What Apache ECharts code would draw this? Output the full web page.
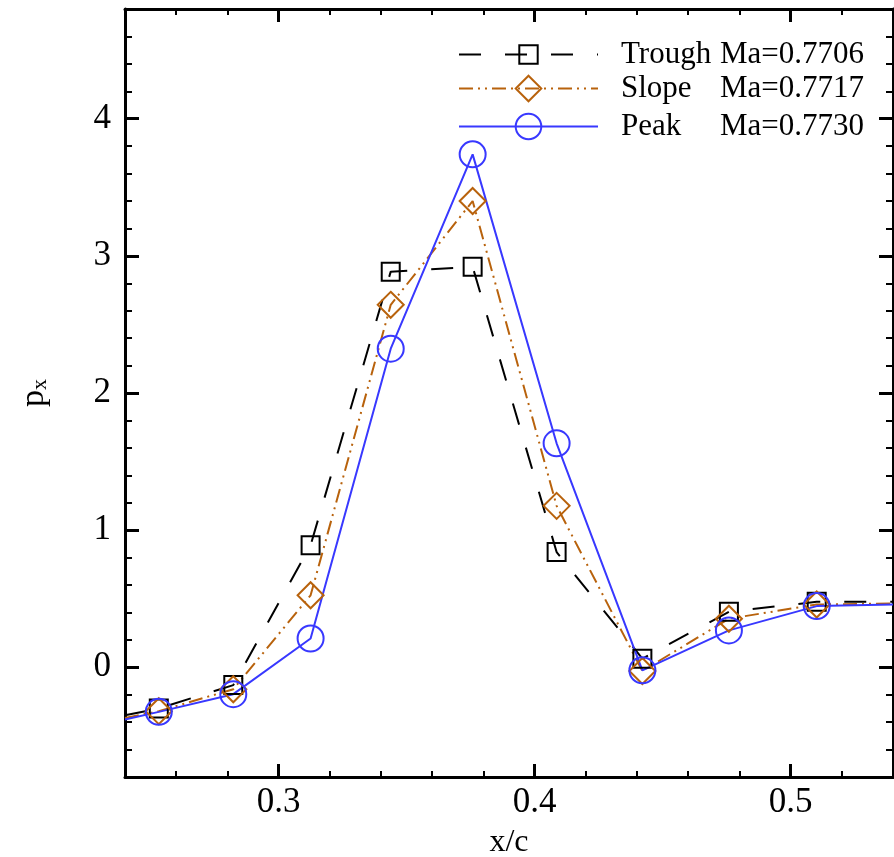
<!DOCTYPE html>
<html>
<head>
<meta charset="utf-8">
<script src="https://cdn.jsdelivr.net/npm/echarts@6/dist/echarts.min.js"></script>
<style>html,body{margin:0;padding:0;background:#fff}#c{width:894px;height:857px}</style>
</head>
<body>
<div id="c"></div>
<script>
// ---- data ----
const xPos = [0.24, 0.2532, 0.2823, 0.3125, 0.3438, 0.3758, 0.4086, 0.4421, 0.4759, 0.5102, 0.54];
const trough = [-0.35, -0.30, -0.13, 0.89, 2.885, 2.92, 0.84, 0.063, 0.405, 0.477, 0.477];
const slope  = [-0.37, -0.32, -0.16, 0.525, 2.643, 3.40, 1.177, -0.027, 0.354, 0.458, 0.465];
const peak   = [-0.38, -0.325, -0.196, 0.21, 2.323, 3.74, 1.633, -0.022, 0.269, 0.446, 0.458];
const seriesNames = ['Trough', 'Slope', 'Peak'];
const machNumbers = ['Ma=0.7706', 'Ma=0.7717', 'Ma=0.7730'];
const xTicks = [0.3, 0.4, 0.5];
const yTicks = [0, 1, 2, 3, 4];

const FONT = 'Liberation Serif';
const toData = arr => arr.map((v, i) => {
  const item = { value: [xPos[i], v] };
  if (i === 0 || i === arr.length - 1) item.symbol = 'none';
  return item;
});

function xAx(pos, major, extra) {
  return Object.assign({
    type: 'value', position: pos, min: 0.24, max: 0.54, interval: 0.02,
    axisLine: { show: !major, onZero: false, lineStyle: { color: '#000', width: 3 } },
    axisTick: major
      ? { inside: true, length: 13, customValues: xTicks, lineStyle: { color: '#000', width: 3 } }
      : { inside: true, length: 6, lineStyle: { color: '#000', width: 2 } },
    axisLabel: { show: false },
    splitLine: { show: false }
  }, extra || {});
}
function yAx(pos, major, extra) {
  return Object.assign({
    type: 'value', position: pos, min: -0.8, max: 4.8, interval: 0.2,
    axisLine: { show: !major, onZero: false, lineStyle: { color: '#000', width: 3 } },
    axisTick: major
      ? { inside: true, length: 14, customValues: yTicks, lineStyle: { color: '#000', width: 3 } }
      : { inside: true, length: 7, lineStyle: { color: '#000', width: 2 } },
    axisLabel: { show: false },
    splitLine: { show: false }
  }, extra || {});
}

function legendFor(i, centerY, itemHeight) {
  return {
    orient: 'vertical', left: 458, top: centerY - Math.max(itemHeight, 26) / 2, padding: 0,
    itemWidth: 139, itemHeight: itemHeight,
    data: [seriesNames[i]],
    formatter: name => '{n|' + name + '}{m|' + machNumbers[i] + '}',
    textStyle: { fontFamily: FONT, fontSize: 31, color: '#000', lineHeight: 26,
      rich: { n: { fontFamily: FONT, fontSize: 31, color: '#000', width: 99, lineHeight: 26, padding: [0, 0, 0, 18] },
              m: { fontFamily: FONT, fontSize: 31, color: '#000', lineHeight: 26 } } }
  };
}

const chart = echarts.init(document.getElementById('c'), null, { renderer: 'canvas' });
const colors = ['#000000', '#b8620c', '#3838ff'];
const option = {
  animation: false,
  grid: { left: 125, right: 1, top: 9, bottom: 80, containLabel: false, outerBoundsMode: 'none' },
  xAxis: [
    xAx('bottom', false),
    xAx('bottom', true, {
      axisLabel: { show: true, customValues: xTicks, formatter: v => v.toFixed(1),
        fontFamily: FONT, fontSize: 35, color: '#000', margin: 8 },
      name: 'x/c', nameLocation: 'middle', nameGap: 50,
      nameTextStyle: { fontFamily: FONT, fontSize: 32, color: '#000' }
    }),
    xAx('top', false),
    xAx('top', true)
  ],
  yAxis: [
    yAx('left', false),
    yAx('left', true, {
      axisLabel: { show: true, customValues: yTicks, formatter: v => String(Math.round(v)),
        fontFamily: FONT, fontSize: 35, color: '#000', margin: 14 },
      name: '{p|p}{s|x}', nameLocation: 'middle', nameGap: 74, nameRotate: 90,
      nameTextStyle: { fontFamily: FONT, fontSize: 34, color: '#000',
        rich: { p: { fontFamily: FONT, fontSize: 34, color: '#000' },
                s: { fontFamily: FONT, fontSize: 22, color: '#000', padding: [12, 0, 0, 0] } } }
    }),
    yAx('right', false),
    yAx('right', true)
  ],
  legend: [
    legendFor(0, 52, 23),
    legendFor(1, 89, 32),
    legendFor(2, 127, 32)
  ],
  series: [
    { name: seriesNames[0], type: 'line', xAxisIndex: 0, yAxisIndex: 0, data: toData(trough),
      symbol: 'rect', symbolSize: 18, clip: true,
      lineStyle: { color: colors[0], width: 2, type: [22, 24] },
      itemStyle: { color: 'rgba(255,255,255,0)', borderColor: colors[0], borderWidth: 2 } },
    { name: seriesNames[1], type: 'line', xAxisIndex: 0, yAxisIndex: 0, data: toData(slope),
      symbol: 'diamond', symbolSize: 26, clip: true,
      lineStyle: { color: colors[1], width: 2, type: [14, 5, 2, 5, 2, 5] },
      itemStyle: { color: 'rgba(255,255,255,0)', borderColor: colors[1], borderWidth: 2 } },
    { name: seriesNames[2], type: 'line', xAxisIndex: 0, yAxisIndex: 0, data: toData(peak),
      symbol: 'circle', symbolSize: 26, clip: true,
      lineStyle: { color: colors[2], width: 2 },
      itemStyle: { color: 'rgba(255,255,255,0)', borderColor: colors[2], borderWidth: 2 } }
  ]
};
chart.setOption(option);
</script>
</body>
</html>
